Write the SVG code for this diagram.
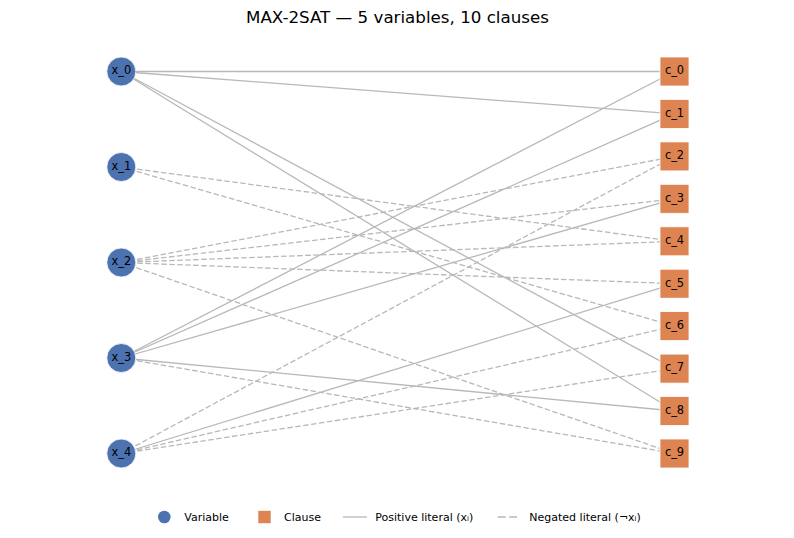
<svg xmlns="http://www.w3.org/2000/svg" width="794" height="538" viewBox="0 0 794 538">
<style>
text{font-family:"DejaVu Sans","Liberation Sans",sans-serif;fill:#000}
.title{font-size:16.7px;text-anchor:middle}
.lbl{font-size:11.4px;text-anchor:middle}
.leg{font-size:11px}
.var{fill:#4C72B0;stroke:#fff;stroke-width:0.8}
.cls{fill:#DD8452;stroke:#fff;stroke-width:0.8}
.pos{stroke:#b8b8b8;stroke-width:1.3;fill:none}
.neg{stroke:#b8b8b8;stroke-width:1.3;fill:none;stroke-dasharray:5.5 2.5}
.negleg{stroke:#b8b8b8;stroke-width:1.3;fill:none;stroke-dasharray:8 3.5}
</style>
<rect width="794" height="538" fill="#fff"/>
<text class="title" x="397.5" y="23">MAX-2SAT — 5 variables, 10 clauses</text>
<g id="connectors">
<line class="pos" x1="121.3" y1="71.5" x2="674.5" y2="71.5"/>
<line class="pos" x1="121.3" y1="71.5" x2="674.5" y2="113.9"/>
<line class="pos" x1="121.3" y1="71.5" x2="674.5" y2="368.6"/>
<line class="pos" x1="121.3" y1="71.5" x2="674.5" y2="411"/>
<line class="neg" x1="121.3" y1="167" x2="674.5" y2="241.3"/>
<line class="neg" x1="121.3" y1="167" x2="674.5" y2="326.1"/>
<line class="neg" x1="121.3" y1="262.5" x2="674.5" y2="156.4"/>
<line class="neg" x1="121.3" y1="262.5" x2="674.5" y2="198.8"/>
<line class="neg" x1="121.3" y1="262.5" x2="674.5" y2="241.3"/>
<line class="neg" x1="121.3" y1="262.5" x2="674.5" y2="283.7"/>
<line class="neg" x1="121.3" y1="262.5" x2="674.5" y2="453.5"/>
<line class="pos" x1="121.3" y1="358" x2="674.5" y2="71.5"/>
<line class="pos" x1="121.3" y1="358" x2="674.5" y2="113.9"/>
<line class="pos" x1="121.3" y1="358" x2="674.5" y2="198.8"/>
<line class="pos" x1="121.3" y1="358" x2="674.5" y2="411"/>
<line class="neg" x1="121.3" y1="358" x2="674.5" y2="453.5"/>
<line class="neg" x1="121.3" y1="453.5" x2="674.5" y2="156.4"/>
<line class="pos" x1="121.3" y1="453.5" x2="674.5" y2="283.7"/>
<line class="neg" x1="121.3" y1="453.5" x2="674.5" y2="326.1"/>
<line class="neg" x1="121.3" y1="453.5" x2="674.5" y2="368.6"/>
</g>
<g id="x_0"><circle class="var" cx="121.3" cy="71.5" r="14.5"/><text class="lbl" x="121.3" y="74.3">x_0</text></g>
<g id="x_1"><circle class="var" cx="121.3" cy="167" r="14.5"/><text class="lbl" x="121.3" y="169.8">x_1</text></g>
<g id="x_2"><circle class="var" cx="121.3" cy="262.5" r="14.5"/><text class="lbl" x="121.3" y="265.3">x_2</text></g>
<g id="x_3"><circle class="var" cx="121.3" cy="358" r="14.5"/><text class="lbl" x="121.3" y="360.8">x_3</text></g>
<g id="x_4"><circle class="var" cx="121.3" cy="453.5" r="14.5"/><text class="lbl" x="121.3" y="456.3">x_4</text></g>
<g id="c_0"><rect class="cls" x="660" y="57" width="29" height="29"/><text class="lbl" x="674.5" y="74.3">c_0</text></g>
<g id="c_1"><rect class="cls" x="660" y="99.4" width="29" height="29"/><text class="lbl" x="674.5" y="116.7">c_1</text></g>
<g id="c_2"><rect class="cls" x="660" y="141.9" width="29" height="29"/><text class="lbl" x="674.5" y="159.2">c_2</text></g>
<g id="c_3"><rect class="cls" x="660" y="184.3" width="29" height="29"/><text class="lbl" x="674.5" y="201.6">c_3</text></g>
<g id="c_4"><rect class="cls" x="660" y="226.8" width="29" height="29"/><text class="lbl" x="674.5" y="244.1">c_4</text></g>
<g id="c_5"><rect class="cls" x="660" y="269.2" width="29" height="29"/><text class="lbl" x="674.5" y="286.5">c_5</text></g>
<g id="c_6"><rect class="cls" x="660" y="311.6" width="29" height="29"/><text class="lbl" x="674.5" y="328.9">c_6</text></g>
<g id="c_7"><rect class="cls" x="660" y="354.1" width="29" height="29"/><text class="lbl" x="674.5" y="371.4">c_7</text></g>
<g id="c_8"><rect class="cls" x="660" y="396.5" width="29" height="29"/><text class="lbl" x="674.5" y="413.8">c_8</text></g>
<g id="c_9"><rect class="cls" x="660" y="439" width="29" height="29"/><text class="lbl" x="674.5" y="456.3">c_9</text></g>
<g id="legend">
<circle cx="164.3" cy="517" r="6.3" fill="#4C72B0"/>
<text class="leg" x="184.3" y="521">Variable</text>
<rect x="258.3" y="510.8" width="12.4" height="12.4" fill="#DD8452"/>
<text class="leg" x="284" y="521">Clause</text>
<line class="pos" x1="343" y1="517" x2="367" y2="517"/>
<text class="leg" x="375.3" y="521">Positive literal (xᵢ)</text>
<line class="negleg" x1="497.7" y1="517" x2="517" y2="517"/>
<text class="leg" x="529.3" y="521">Negated literal (¬xᵢ)</text>
</g>
</svg>
